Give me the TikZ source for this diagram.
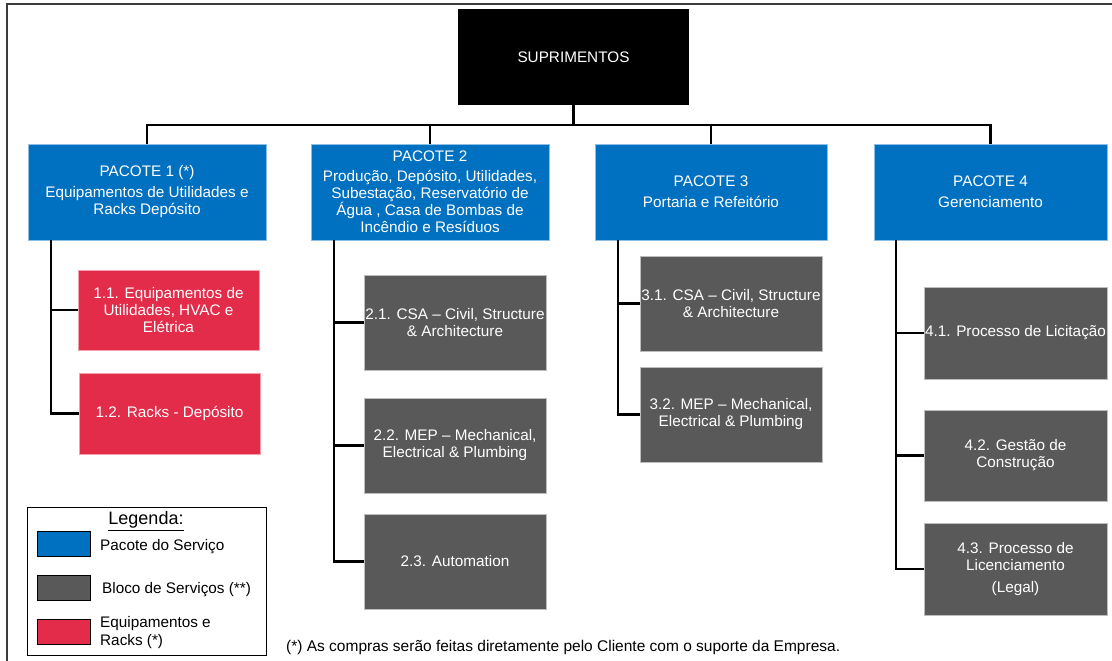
\documentclass[tikz,border=0pt]{standalone}
\usepackage{fontspec}
\setmainfont{Liberation Sans}
\usetikzlibrary{calc}
\definecolor{pkgblue}{RGB}{0,112,192}
\definecolor{blkgrey}{RGB}{89,89,89}
\definecolor{eqred}{RGB}{227,43,74}
\definecolor{framegrey}{RGB}{60,60,60}
\tikzset{
  wbs/.style={inner sep=0pt, align=center, font=\fontsize{15.3}{17}\selectfont, text=white},
  topbox/.style={wbs, fill=black, minimum width=231pt, minimum height=96pt},
  pkgbox/.style={wbs, fill=pkgblue, draw=pkgblue!45!white, line width=0.8pt, minimum height=96pt},
  srvbox/.style={wbs, fill=blkgrey, draw=blkgrey!40!white, line width=0.6pt, minimum width=182pt},
  eqbox/.style={wbs, fill=eqred, draw=eqred!45!white, line width=0.6pt, minimum width=181pt},
  conn/.style={draw=black, line width=2.9pt},
  swatch/.style={draw=black, line width=0.8pt, minimum width=53pt, minimum height=25pt, inner sep=0pt},
  legtext/.style={anchor=west, inner sep=0pt, align=left, font=\fontsize{15.3}{18}\selectfont}
}
\begin{document}
\begin{tikzpicture}[x=1pt, y=-1pt]
\useasboundingbox (0,0) rectangle (1112,661);
% outer frame (top and left edges)
\draw[framegrey, line width=1.4pt] (7,661) -- (7,4) -- (1112,4);

% top node and packages
\node[topbox] (sup) at (573.5,57) {SUPRIMENTOS};
\node[pkgbox, minimum width=238pt] (p1) at (147,192) {PACOTE 1 (*)\\[4pt]Equipamentos de Utilidades e\\Racks Depósito};
\node[pkgbox, minimum width=238pt] (p2) at (430,192) {PACOTE 2\\[3pt]Produção, Depósito, Utilidades,\\Subestação, Reservatório de\\Água , Casa de Bombas de\\Incêndio e Resíduos};
\node[pkgbox, minimum width=232pt] (p3) at (711,192) {PACOTE 3\\[4pt]Portaria e Refeitório};
\node[pkgbox, minimum width=233pt] (p4) at (990.5,192) {PACOTE 4\\[4pt]Gerenciamento};

% service blocks
\node[eqbox, minimum height=80pt] (s11) at (168.5,310) {1.1. Equipamentos de\\Utilidades, HVAC e\\Elétrica};
\node[eqbox, minimum height=81pt] (s12) at (169.5,413.5) {1.2. Racks - Depósito};

\node[srvbox, minimum height=95pt] (s21) at (455,322.5) {2.1. CSA – Civil, Structure\\\& Architecture};
\node[srvbox, minimum height=95pt] (s22) at (455,445.5) {2.2. MEP – Mechanical,\\Electrical \& Plumbing};
\node[srvbox, minimum height=95pt] (s23) at (455,561.5) {2.3. Automation};

\node[srvbox, minimum height=95pt] (s31) at (731,303.5) {3.1. CSA – Civil, Structure\\\& Architecture};
\node[srvbox, minimum height=95pt] (s32) at (731,414.5) {3.2. MEP – Mechanical,\\Electrical \& Plumbing};

\node[srvbox, minimum width=183pt, minimum height=92pt] (s41) at (1015.5,333) {4.1. Processo de Licitação};
\node[srvbox, minimum width=183pt, minimum height=91pt] (s42) at (1015.5,455.5) {4.2. Gestão de\\Construção};
\node[srvbox, minimum width=183pt, minimum height=92pt] (s43) at (1015.5,569) {4.3. Processo de\\Licenciamento\\[5pt](Legal)};

% connectors from the top node to the packages
\coordinate (bus) at (0,125);
\draw[conn] (sup.south) -- (sup.south |- bus);
\draw[conn] (p1.north) -- (p1.north |- bus) -- (p4.north |- bus) -- (p4.north);
\draw[conn] (p2.north) -- (p2.north |- bus);
\draw[conn] (p3.north) -- (p3.north |- bus);

% trunks from the packages to their blocks
\coordinate (t1) at (51,0);
\coordinate (t2) at (334,0);
\coordinate (t3) at (618,0);
\coordinate (t4) at (896,0);
\draw[conn] (t1 |- p1.south) -- (t1 |- s12.west) -- (s12.west);
\draw[conn] (t1 |- s11.west) -- (s11.west);
\draw[conn] (t2 |- p2.south) -- (t2 |- s23.west) -- (s23.west);
\draw[conn] (t2 |- s21.west) -- (s21.west);
\draw[conn] (t2 |- s22.west) -- (s22.west);
\draw[conn] (t3 |- p3.south) -- (t3 |- s32.west) -- (s32.west);
\draw[conn] (t3 |- s31.west) -- (s31.west);
\draw[conn] (t4 |- p4.south) -- (t4 |- s43.west) -- (s43.west);
\draw[conn] (t4 |- s41.west) -- (s41.west);
\draw[conn] (t4 |- s42.west) -- (s42.west);

% legend
\node[draw=black, line width=0.9pt, minimum width=239pt, minimum height=148pt, inner sep=0pt] (leg) at (146.5,581) {};
\node[font=\fontsize{18}{20}\selectfont, inner sep=0pt] (legtitle) at (146,521) {\underline{Legenda:}};
\node[swatch, fill=pkgblue] (sw1) at (63.5,543.5) {};
\node[swatch, fill=blkgrey] (sw2) at (63.5,587.5) {};
\node[swatch, fill=eqred] (sw3) at (63.5,631.5) {};
\node[legtext] (lt1) at (100,547) {Pacote do Serviço};
\node[legtext] (lt2) at (102,590) {Bloco de Serviços (**)};
\node[legtext] (lt3) at (100,633) {Equipamentos e\\Racks (*)};

% footnote
\node[anchor=west, inner sep=0pt, font=\fontsize{15.5}{17}\selectfont] (note) at (286,647) {(*) As compras serão feitas diretamente pelo Cliente com o suporte da Empresa.};
\end{tikzpicture}
\end{document}
